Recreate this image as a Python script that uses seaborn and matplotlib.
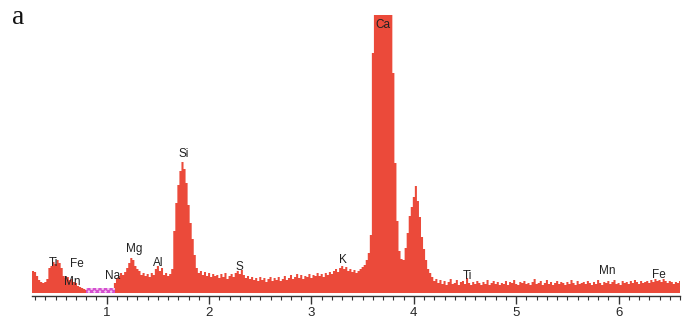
import numpy as np
import pandas as pd
import matplotlib
matplotlib.use("Agg")
import matplotlib.pyplot as plt
import seaborn as sns
from matplotlib.ticker import MultipleLocator, FixedLocator

# ---- data ----
energy_start = 0.28   # keV, first channel centre
energy_step = 0.02    # keV per channel
counts = [
    22, 21, 17, 13, 11, 10, 11, 14, 25, 27,      # 0.28-0.46
    31, 29, 33, 30, 25, 17, 15, 16, 13, 14,      # 0.48-0.66
    11, 10, 7, 6, 5, 4, 3, 3, 2, 2,              # 0.68-0.86
    2, 2, 2, 3, 2, 2, 3, 3, 4, 5,                # 0.88-1.06
    10, 15, 17, 20, 18, 21, 25, 30, 35, 33,      # 1.08-1.26
    27, 24, 22, 18, 20, 17, 19, 16, 20, 18,      # 1.28-1.46
    24, 27, 22, 25, 18, 20, 17, 19, 24, 62,      # 1.48-1.66
    90, 108, 122, 131, 124, 110, 88, 70, 54, 38, # 1.68-1.86
    25, 20, 22, 18, 21, 17, 20, 16, 19, 17,      # 1.88-2.06
    18, 15, 19, 16, 20, 14, 17, 19, 16, 20,      # 2.08-2.26
    22, 19, 23, 18, 15, 17, 14, 16, 13, 15,      # 2.28-2.46
    12, 16, 13, 15, 11, 14, 16, 12, 15, 13,      # 2.48-2.66
    16, 12, 14, 17, 13, 15, 18, 14, 16, 19,      # 2.68-2.86
    15, 18, 14, 17, 16, 19, 15, 18, 17, 20,      # 2.88-3.06
    17, 19, 16, 20, 18, 21, 19, 22, 24, 21,      # 3.08-3.26
    25, 27, 24, 26, 22, 24, 21, 23, 20, 22,      # 3.28-3.46
    24, 26, 28, 33, 40, 58, 240, 400, 400, 400,  # 3.48-3.66
    400, 400, 400, 400, 400, 400, 220, 130, 72, 42,  # 3.68-3.86
    34, 33, 45, 60, 77, 86, 96, 107, 92, 76,     # 3.88-4.06
    56, 44, 33, 24, 20, 16, 12, 14, 10, 13,      # 4.08-4.26
    9, 12, 8, 11, 14, 9, 10, 13, 8, 11,          # 4.28-4.46
    12, 9, 15, 10, 8, 11, 9, 12, 10, 8,          # 4.48-4.66
    11, 9, 13, 8, 10, 12, 9, 11, 8, 10,          # 4.68-4.86
    9, 12, 8, 11, 10, 13, 9, 8, 11, 10,          # 4.88-5.06
    12, 9, 10, 8, 11, 14, 9, 10, 12, 8,          # 5.08-5.26
    10, 13, 9, 11, 8, 10, 12, 9, 11, 10,         # 5.28-5.46
    8, 11, 9, 13, 10, 8, 12, 9, 10, 11,          # 5.48-5.66
    9, 12, 10, 8, 11, 9, 13, 10, 8, 11,          # 5.68-5.86
    10, 12, 9, 11, 13, 9, 10, 8, 12, 10,         # 5.88-6.06
    11, 9, 12, 10, 13, 11, 9, 12, 10, 11,        # 6.08-6.26
    12, 10, 13, 11, 14, 12, 13, 11, 14, 12,      # 6.28-6.46
    10, 12, 11, 9, 11, 10, 12,                   # 6.48-6.60
]
element_labels = ["Ti", "Fe", "Mn", "Na", "Mg", "Al", "Si", "S", "K", "Ca", "Ti", "Mn", "Fe"]
label_energy = [0.48, 0.71, 0.66, 1.06, 1.27, 1.50, 1.75, 2.30, 3.31, 3.70, 4.52, 5.89, 6.39]
label_height = [30, 29, 11, 17, 44, 30, 139, 26, 33, 268, 17, 22, 18]
tick_values = [1, 2, 3, 4, 5, 6]
tick_labels = ["1", "2", "3", "4", "5", "6"]
hatch_range = [0.80, 1.08]   # highlighted (pink) window, keV

energy = np.round(energy_start + energy_step * np.arange(len(counts)), 3)
df = pd.DataFrame({"energy": energy, "counts": counts})

# ---- figure ----
sns.set_theme(style="white")
plt.rcParams["font.family"] = ["Liberation Sans", "DejaVu Sans"]
plt.rcParams["hatch.linewidth"] = 1.2

fig = plt.figure(figsize=(6.84, 3.25), dpi=100)
ax = fig.add_axes([32 / 684, 1 - 296 / 325, 648 / 684, 281 / 325])

red = "#EB4A3A"
sns.histplot(data=df, x="energy", weights="counts",
             binwidth=energy_step,
             binrange=(energy_start - energy_step / 2, energy[-1] + energy_step / 2),
             element="step", fill=True, color=red, alpha=1.0,
             linewidth=0, ax=ax, legend=False)

# pink hatched window near baseline
ax.fill_between(hatch_range, [0, 0], [5, 5], facecolor="#F4C8F0",
                edgecolor="#D44FD0", hatch="xxxxxx", linewidth=0)

for lab, ex, hy in zip(element_labels, label_energy, label_height):
    ax.text(ex, hy, lab, ha="center", va="center", fontsize=8.5,
            color="#222222")

ax.set_xlim(0.27, 6.60)
ax.set_ylim(-3, 278)
ax.set_xlabel("")
ax.set_ylabel("")
ax.set_yticks([])
for s in ["left", "right", "top"]:
    ax.spines[s].set_visible(False)
ax.spines["bottom"].set_color("#333333")
ax.spines["bottom"].set_linewidth(1.0)

ax.xaxis.set_major_locator(FixedLocator(tick_values))
ax.set_xticklabels(tick_labels)
ax.xaxis.set_minor_locator(MultipleLocator(0.1))
ax.tick_params(axis="x", which="major", direction="out", length=6, width=1,
               color="#333333", labelsize=9.5, pad=2, bottom=True)
ax.tick_params(axis="x", which="minor", direction="out", length=3, width=0.8,
               color="#333333", bottom=True)

fig.text(18 / 684, 1 - 18 / 325, "a", fontsize=20, family="Liberation Serif",
         ha="center", va="center", color="#111111")

fig.savefig("out.png", dpi=100)
